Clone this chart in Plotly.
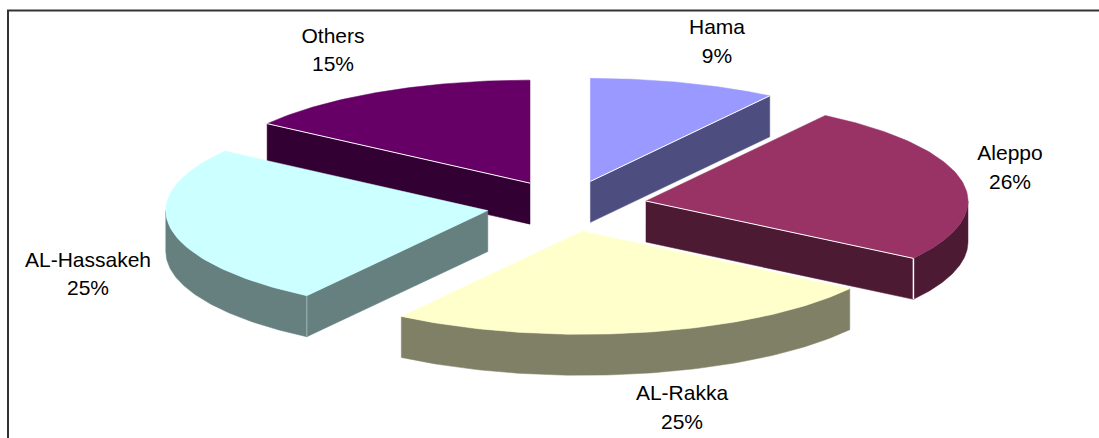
import math
import plotly.graph_objects as go

# Data
regions = ["Hama", "Aleppo", "AL-Rakka", "AL-Hassakeh", "Others"]
shares = [9.4, 25.0, 25.1, 25.3, 15.2]
pct_labels = ["9%", "26%", "25%", "25%", "15%"]

top_colors = ["#9999FF", "#993366", "#FFFFCC", "#CCFFFF", "#660066"]
side_colors = ["#4D4D80", "#4D1A33", "#808066", "#668080", "#330033"]
edge_colors = ["#FFFFFF", "#FFFFFF", "#FFFFCC", "#9DB5B5", "#FFFFFF"]

# Pie geometry in window pixels
W, H = 1099, 438
CX, CY = 567, 206
RX, RY = 322, 103
DEPTH = 41
EXPLODE = 0.25
LABEL_POS = {
    "Hama": (717, 29, 58),
    "Aleppo": (1010, 155, 184),
    "AL-Rakka": (682, 395, 424),
    "AL-Hassakeh": (88, 262, 290),
    "Others": (333, 38, 66),
}
DRAW_ORDER = ["Hama", "Others", "Aleppo", "AL-Hassakeh", "AL-Rakka"]


def pt(cx, cy, deg, dz=0):
    a = math.radians(deg)
    return cx + RX * math.sin(a), cy - RY * math.cos(a) + dz


def arc(cx, cy, a0, a1, dz=0, n=80):
    return [pt(cx, cy, a0 + (a1 - a0) * i / n, dz) for i in range(n + 1)]


def poly(points, color):
    xs = [p[0] for p in points] + [points[0][0]]
    ys = [p[1] for p in points] + [points[0][1]]
    return go.Scatter(x=xs, y=ys, mode="lines", fill="toself", fillcolor=color,
                      line=dict(width=0.5, color=color), hoverinfo="skip", showlegend=False)


def stroke(points, color, width=1):
    return go.Scatter(x=[p[0] for p in points], y=[p[1] for p in points], mode="lines",
                      line=dict(width=width, color=color), hoverinfo="skip", showlegend=False)


total = sum(shares)
angles = {}
run = 0.0
for name, s in zip(regions, shares):
    angles[name] = (run, run + s / total * 360)
    run += s / total * 360

fig = go.Figure()
for name in DRAW_ORDER:
    i = regions.index(name)
    a0, a1 = angles[name]
    mid = math.radians((a0 + a1) / 2)
    ax = CX + EXPLODE * RX * math.sin(mid)
    ay = CY - EXPLODE * RY * math.cos(mid)
    apex = (ax, ay)
    apex_low = (ax, ay + DEPTH)
    side, top, edge = side_colors[i], top_colors[i], edge_colors[i]

    # outer rim: only the front half of the ellipse shows
    r0, r1 = max(a0, 90), min(a1, 270)
    if r1 > r0:
        upper = arc(ax, ay, r0, r1)
        lower = arc(ax, ay, r0, r1, DEPTH)
        fig.add_trace(poly(upper + lower[::-1], side))

    # cut faces that look toward the viewer
    if name in ("Hama", "Aleppo"):
        e = pt(ax, ay, a1)
        fig.add_trace(poly([apex, e, (e[0], e[1] + DEPTH), apex_low], side))
        fig.add_trace(poly(arc(ax, ay, a0, a1) + [apex], top))
        fig.add_trace(stroke([apex, e], edge))
        if name == "Aleppo":
            fig.add_trace(stroke([e, (e[0], e[1] + DEPTH)], edge, 1.5))
    elif name in ("AL-Hassakeh", "Others"):
        e = pt(ax, ay, a0)
        fig.add_trace(poly([apex, e, (e[0], e[1] + DEPTH), apex_low], side))
        fig.add_trace(poly(arc(ax, ay, a0, a1) + [apex], top))
        fig.add_trace(stroke([e, (e[0], e[1] + DEPTH)], edge) if name == "AL-Hassakeh"
                      else stroke([apex, e], edge))
    else:
        fig.add_trace(poly(arc(ax, ay, a0, a1) + [apex], top))

# Labels
for name, pct in zip(regions, pct_labels):
    lx, ly1, ly2 = LABEL_POS[name]
    fig.add_trace(go.Scatter(x=[lx, lx], y=[ly1, ly2], mode="text", text=[name, pct],
                             textposition="middle center",
                             textfont=dict(family="Liberation Sans", size=21, color="#000000"),
                             hoverinfo="skip", showlegend=False))

fig.update_layout(
    width=W, height=H, margin=dict(l=0, r=0, t=0, b=0),
    paper_bgcolor="#FFFFFF", plot_bgcolor="#FFFFFF", showlegend=False,
    xaxis=dict(range=[0, W], visible=False, fixedrange=True),
    yaxis=dict(range=[H, 0], visible=False, fixedrange=True),
    shapes=[dict(type="path", xref="x", yref="y",
                 path=f"M 8 {H} L 8 10.5 L {W} 10.5",
                 line=dict(color="#333333", width=2))],
)
fig.write_html("out.html", config={"displayModeBar": False},
               post_script="document.body.style.margin='0';document.body.style.overflow='hidden';")
